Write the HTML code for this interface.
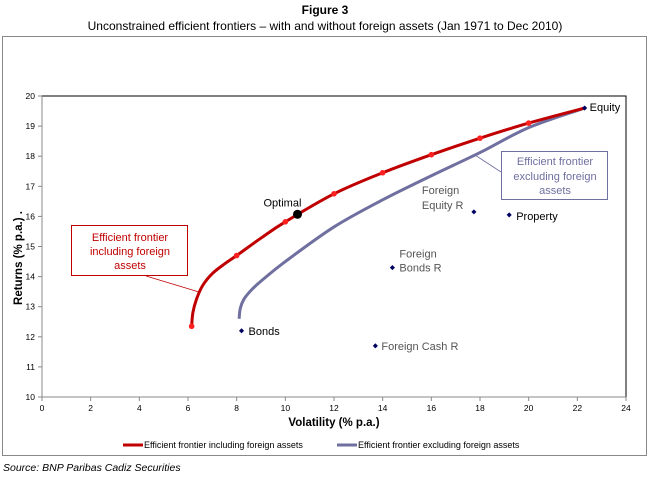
<!DOCTYPE html>
<html><head><meta charset="utf-8">
<style>
body{margin:0;background:#fff;width:651px;height:479px;overflow:hidden;font-family:"Liberation Sans",Arial,sans-serif;}
svg{display:block}
</style></head>
<body>
<svg id="chart" width="651" height="479" viewBox="0 0 651 479" font-family="Liberation Sans, Arial, sans-serif">
  <text x="325" y="14" text-anchor="middle" font-size="12" font-weight="bold">Figure 3</text>
  <text x="325" y="30" text-anchor="middle" font-size="12">Unconstrained efficient frontiers – with and without foreign assets (Jan 1971 to Dec 2010)</text>
  <rect x="2.5" y="36.5" width="644" height="419" fill="none" stroke="#888"/>
  <g id="plot"></g>
  <text x="334" y="426" text-anchor="middle" font-size="11.5" font-weight="bold">Volatility (% p.a.)</text>
  <text transform="translate(22,258) rotate(-90)" text-anchor="middle" font-size="11.5" font-weight="bold">Returns (% p.a.)  .</text>
  <g>
    <line x1="123" y1="445" x2="143" y2="445" stroke="#c00000" stroke-width="3"/>
    <text x="144" y="448" font-size="9">Efficient frontier including foreign assets</text>
    <line x1="337" y1="445" x2="357" y2="445" stroke="#6f6fa0" stroke-width="3"/>
    <text x="358" y="448" font-size="9">Efficient frontier excluding foreign assets</text>
  </g>
  <text x="3" y="471" font-size="10.5" font-style="italic">Source: BNP Paribas Cadiz Securities</text>
</svg>
<script>
const xTicks=[0,2,4,6,8,10,12,14,16,18,20,22,24];
const yTicks=[10,11,12,13,14,15,16,17,18,19,20];
const inclX=[6.15,6.2,6.35,6.6,7,7.5,8,9,10,12,14,16,18,20,22.3];
const inclY=[12.35,12.8,13.25,13.7,14.1,14.42,14.7,15.28,15.82,16.75,17.45,18.05,18.6,19.1,19.6];
const inclMarkX=[6.15,8,10,12,14,16,18,20];
const inclMarkY=[12.35,14.7,15.82,16.75,17.45,18.05,18.6,19.1];
const exclX=[8.1,8.15,8.3,8.6,9,10,12,14,16,18,20,22.3];
const exclY=[12.6,12.95,13.25,13.55,13.85,14.5,15.65,16.55,17.35,18.12,18.95,19.6];
const assetNames=["Bonds","Foreign Cash R","Foreign Bonds R","Foreign Equity R","Property","Equity"];
const assetX=[8.2,13.7,14.4,17.75,19.2,22.3];
const assetY=[12.2,11.7,14.3,16.15,16.05,19.6];
const optimalX=10.5, optimalY=16.07;

const NS="http://www.w3.org/2000/svg";
const g=document.getElementById('plot');
const X0=42,X1=626,Y0=397,Y1=96;
const sx=v=>X0+(v-0)/(24-0)*(X1-X0);
const sy=v=>Y0-(v-10)/(20-10)*(Y0-Y1);
function mk(tag,attrs,parent){const e=document.createElementNS(NS,tag);for(const k in attrs)e.setAttribute(k,attrs[k]);(parent||g).appendChild(e);return e;}

const box=mk('rect',{x:X0,y:Y1,width:X1-X0,height:Y0-Y1,fill:'none',stroke:'#000','stroke-width':1});


mk('line',{x1:X0,y1:Y1,x2:X0,y2:Y0,stroke:'#888'});
mk('line',{x1:X0,y1:Y0,x2:X1,y2:Y0,stroke:'#888'});
xTicks.forEach(t=>{
  mk('line',{x1:sx(t),y1:Y0,x2:sx(t),y2:Y0+4,stroke:'#888'});
  const tx=mk('text',{x:sx(t),y:Y0+14,'text-anchor':'middle','font-size':8.5});
  tx.textContent=t;
  
  
});
yTicks.forEach(t=>{
  mk('line',{x1:X0-4,y1:sy(t),x2:X0,y2:sy(t),stroke:'#888'});
  const tx=mk('text',{x:X0-7,y:sy(t)+3,'text-anchor':'end','font-size':8.5});
  tx.textContent=t;
  
  
});
function smooth(xs,ys){
  const p=xs.map((x,i)=>[sx(x),sy(ys[i])]);
  let d='M'+p[0][0]+','+p[0][1];
  for(let i=0;i<p.length-1;i++){
    const p0=p[i-1]||p[i],p1=p[i],p2=p[i+1],p3=p[i+2]||p2;
    const c1=[p1[0]+(p2[0]-p0[0])/6,p1[1]+(p2[1]-p0[1])/6];
    const c2=[p2[0]-(p3[0]-p1[0])/6,p2[1]-(p3[1]-p1[1])/6];
    d+=`C${c1[0]},${c1[1]} ${c2[0]},${c2[1]} ${p2[0]},${p2[1]}`;
  }
  return d;
}
const ex=mk('path',{d:smooth(exclX,exclY),fill:'none',stroke:'#6f6fa0','stroke-width':3});


const inc=mk('path',{d:smooth(inclX,inclY),fill:'none',stroke:'#c00000','stroke-width':3});


inclMarkX.forEach((x,i)=>{
  const c=mk('circle',{cx:sx(x),cy:sy(inclMarkY[i]),r:2.8,fill:'#ff2020'});
  
  
});
const op=mk('circle',{cx:sx(optimalX),cy:sy(optimalY),r:4.5,fill:'#000'});


const opl=mk('text',{x:sx(optimalX)-34,y:sy(optimalY)-8,'font-size':11});
opl.textContent='Optimal';


const lbl={"Bonds":[[7,4]],"Foreign Cash R":[[6,4]],"Foreign Bonds R":[[7,-10],[7,4]],"Foreign Equity R":[[-52,-18],[-52,-3]],"Property":[[7,5]],"Equity":[[5,3]]};
const lines={"Foreign Bonds R":["Foreign","Bonds R"],"Foreign Equity R":["Foreign","Equity R"]};
const dark=["Bonds","Property","Equity"];
assetNames.forEach((n,i)=>{
  const m=mk('rect',{x:sx(assetX[i])-1.8,y:sy(assetY[i])-1.8,width:3.6,height:3.6,fill:'#000060',transform:`rotate(45 ${sx(assetX[i])} ${sy(assetY[i])})`});
  
  
  const ls=lines[n]||[n];
  ls.forEach((s,j)=>{
    const o=lbl[n][j];
    const t=mk('text',{x:sx(assetX[i])+o[0],y:sy(assetY[i])+o[1],'font-size':11,fill:dark.includes(n)?'#000':'#555'});
    t.textContent=s;
    
    
  });
});
const a1=mk('rect',{x:71.5,y:225.5,width:116,height:50,fill:'#fff',stroke:'#c00000'});


[['Efficient frontier',241],['including foreign',255],['assets',269]].forEach(([s,y])=>{
  const t=mk('text',{x:130,y:y,'text-anchor':'middle','font-size':11,fill:'#c00000'});t.textContent=s;
  
  
});
mk('line',{x1:146,y1:276,x2:199,y2:292,stroke:'#c00000','stroke-width':0.8});
const a2=mk('rect',{x:501.5,y:151.5,width:106,height:48,fill:'#fff',stroke:'#6f6fa0'});


[['Efficient frontier',165],['excluding foreign',180],['assets',194]].forEach(([s,y])=>{
  const t=mk('text',{x:555,y:y,'text-anchor':'middle','font-size':11,fill:'#6f6fa0'});t.textContent=s;
  
  
});
mk('line',{x1:501,y1:172,x2:475,y2:155,stroke:'#6f6fa0','stroke-width':0.8});
</script>
</body></html>
